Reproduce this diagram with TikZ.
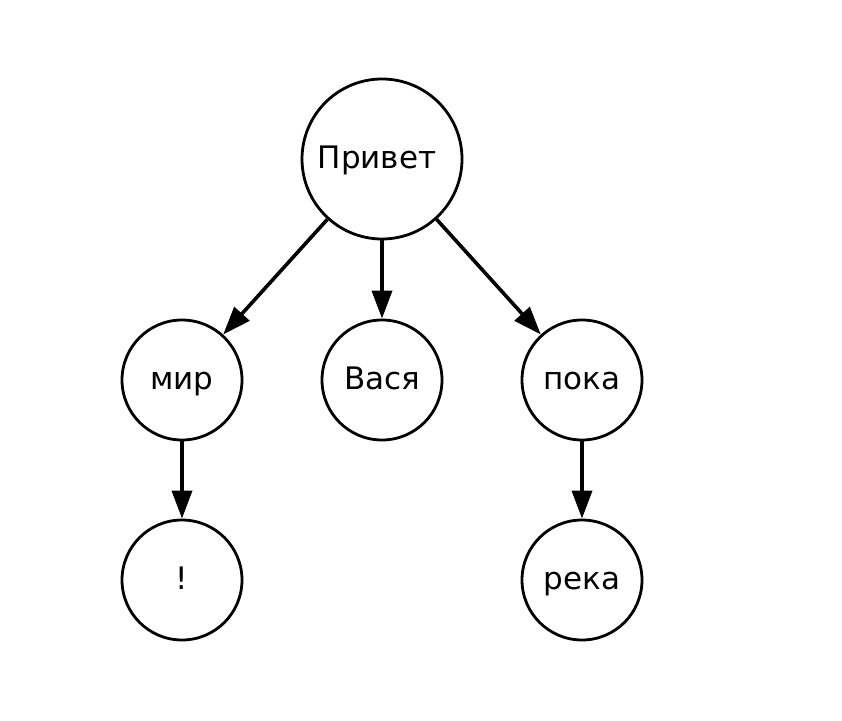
\documentclass[tikz,border=0pt]{standalone}
\usepackage{fontspec}
\setmainfont{DejaVu Sans}
\usetikzlibrary{arrows.meta}
\begin{document}
\begin{tikzpicture}[x=1pt,y=-1pt,
  lbl/.style={font=\fontsize{31}{36}\selectfont,text height=23pt,text depth=5pt},
  big/.style={circle,draw,line width=2.8pt,minimum size=160pt,inner sep=0pt,lbl},
  small/.style={circle,draw,line width=2.8pt,minimum size=120pt,inner sep=0pt,lbl},
  edge/.style={line width=3.6pt,-{Triangle[length=28pt,width=20pt]}}]
\useasboundingbox (0,0) rectangle (842,720);
\node[big] (root) at (382,159) {Привет\ \ };
\node[small] (mir) at (182,380) {мир};
\node[small] (vasya) at (382,380) {Вася};
\node[small] (poka) at (582,380) {пока};
\node[small] (excl) at (182,580) {!};
\node[small] (reka) at (582,580) {река};
\draw[edge] (root) -- (mir);
\draw[edge] (root) -- (vasya);
\draw[edge] (root) -- (poka);
\draw[edge] (mir) -- (excl);
\draw[edge] (poka) -- (reka);
\end{tikzpicture}
\end{document}
